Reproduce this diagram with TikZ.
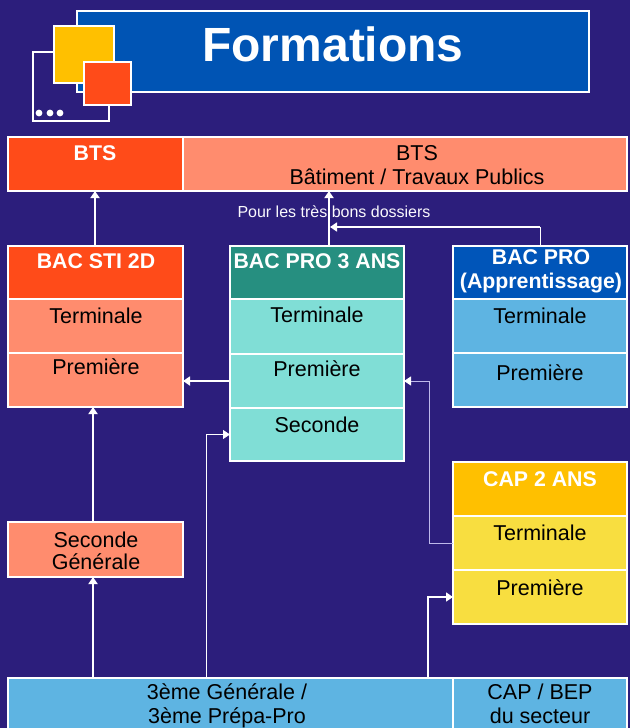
\documentclass[tikz,border=0pt]{standalone}
\usepackage{fontspec}
\setmainfont{Liberation Sans}
\usetikzlibrary{arrows.meta,calc}
\definecolor{bgnavy}{RGB}{44,30,124}
\definecolor{titleblue}{RGB}{0,84,180}
\definecolor{sqyellow}{RGB}{255,192,0}
\definecolor{orred}{RGB}{255,75,25}
\definecolor{salmon}{RGB}{255,140,110}
\definecolor{tealh}{RGB}{38,143,128}
\definecolor{tealc}{RGB}{128,222,214}
\definecolor{apblue}{RGB}{0,85,185}
\definecolor{skyc}{RGB}{94,180,226}
\definecolor{capy}{RGB}{255,192,0}
\definecolor{capc}{RGB}{248,222,64}
\definecolor{lav}{RGB}{190,185,235}
\newcommand\xbox[6]{\node[cellbase, fill=#6, anchor=north west, minimum width={#4-#2}, minimum height={#5-#3}] (#1) at (#2,#3) {};}
\begin{document}
\begin{tikzpicture}[x=1pt,y=-1pt,
  cellbase/.style={draw=white, line width=1.2pt, inner sep=0pt, outer sep=0pt},
  txt/.style={anchor=base, inner sep=0pt, font=\fontsize{21.5}{24}\selectfont, text=black},
  htxt/.style={anchor=base, inner sep=0pt, font=\fontsize{21.3}{24}\selectfont\bfseries, text=white},
  thickarr/.style={draw=white, line width=2pt, -{Triangle[length=7pt,width=9pt]}},
  thinarr/.style={draw=white, line width=1pt, -{Triangle[length=7pt,width=9pt]}},
  lavarr/.style={draw=lav, line width=1pt, -{Triangle[length=7pt,width=9pt,color=white]}}]
\useasboundingbox (0,0) rectangle (630,728);
\fill[bgnavy] (0,0) rectangle (630,728);
% logo and title
\node[draw=white, line width=1.5pt, fill=titleblue, anchor=north west, minimum width=512, minimum height=81, inner sep=0pt] (titlebox) at (76,10) {};
\node[draw=white, line width=1.5pt, anchor=north west, minimum width=76, minimum height=69, inner sep=0pt] (frame) at (32,51) {};
\node[draw=white, line width=1.5pt, fill=sqyellow, anchor=north west, minimum width=60, minimum height=57, inner sep=0pt] (sqy) at (53,25) {};
\node[draw=white, line width=1.5pt, fill=orred, anchor=north west, minimum width=47, minimum height=43, inner sep=0pt] (sqr) at (83,61) {};
\fill[white] (39,113) circle (3.4) (50,113) circle (3.4) (60,113) circle (3.4);
\node[anchor=center, inner sep=0pt, font=\fontsize{48}{50}\selectfont\bfseries, text=white] (title) at (333,44) {Formations};
% BTS row
\xbox{btsL}{8}{137}{183}{191}{orred}
\xbox{btsR}{183}{137}{627}{191}{salmon}
\node[htxt] (btsLt) at (95,160) {BTS};
\node[txt] (btsRa) at (417,160) {BTS};
\node[txt] (btsRb) at (417,184) {Bâtiment / Travaux Publics};
\node[anchor=base, inner sep=0pt, font=\fontsize{16}{18}\selectfont, text=white!92!lav] (pour) at (334,217) {Pour les très bons dossiers};
% BAC STI 2D
\xbox{stiH}{8}{246}{183}{299}{orred}
\xbox{stiT}{8}{299}{183}{353}{salmon}
\xbox{stiP}{8}{353}{183}{407}{salmon}
\node[htxt] (stiHt) at (96,268) {BAC STI 2D};
\node[txt] (stiTt) at (96,323) {Terminale};
\node[txt] (stiPt) at (96,374) {Première};
% BAC PRO 3 ANS
\xbox{bpH}{230}{246}{404}{299}{tealh}
\xbox{bpT}{230}{299}{404}{354}{tealc}
\xbox{bpP}{230}{354}{404}{408}{tealc}
\xbox{bpS}{230}{408}{404}{461}{tealc}
\node[htxt] (bpHt) at (317,268) {BAC PRO 3 ANS};
\node[txt] (bpTt) at (317,322) {Terminale};
\node[txt] (bpPt) at (317,376) {Première};
\node[txt] (bpSt) at (317,432) {Seconde};
% BAC PRO apprentissage
\xbox{apH}{453}{246}{627}{299}{apblue}
\xbox{apT}{453}{299}{627}{353}{skyc}
\xbox{apP}{453}{353}{627}{407}{skyc}
\node[htxt] (apHa) at (541,264) {BAC PRO};
\node[htxt] (apHb) at (541,288) {(Apprentissage)};
\node[txt] (apTt) at (540,323) {Terminale};
\node[txt] (apPt) at (540,380) {Première};
% CAP 2 ANS
\xbox{capH}{453}{462}{627}{516}{capy}
\xbox{capT}{453}{516}{627}{570}{capc}
\xbox{capP}{453}{570}{627}{624}{capc}
\node[htxt] (capHt) at (540,486) {CAP 2 ANS};
\node[txt] (capTt) at (540,540) {Terminale};
\node[txt] (capPt) at (540,595) {Première};
% Seconde Generale
\xbox{secG}{8}{522}{183}{577}{salmon}
\node[txt] (secGa) at (96,547) {Seconde};
\node[txt] (secGb) at (96,569) {Générale};
% bottom row
\xbox{e3}{8}{678}{453}{740}{skyc}
\xbox{cap}{453}{678}{627}{740}{skyc}
\node[txt] (e3a) at (227,699) {3ème Générale /};
\node[txt] (e3b) at (227,723) {3ème Prépa-Pro};
\node[txt] (capa) at (540,699) {CAP / BEP};
\node[txt] (capb) at (540,723) {du secteur};
% connectors
\draw[thickarr] (stiH.north -| btsLt) -- (btsL.south -| btsLt);
\coordinate (bpx) at (329,246);
\draw[thickarr] (bpx) -- (bpx |- btsR.south);
\coordinate (j1) at (540,227);
\coordinate (j2) at (330,227);
\draw[line width=1pt, white] (apH.north) -- (j1);
\draw[thickarr, line width=1.6pt] (j1) -- (j2);
\coordinate (sx) at (93,522);
\draw[thickarr] (sx) -- (sx |- stiP.south);
\coordinate (ex) at (93,678);
\draw[thickarr] (ex) -- (ex |- secG.south);
\draw[thickarr, line width=2.4pt] (bpP.west) -- (bpP.west -| stiP.east);
\coordinate (c1) at (206,678);
\draw[thinarr] (c1) |- (bpS.west);
\coordinate (c2) at (429,381);
\draw[lavarr] (capT.west) -| (c2) -- (bpP.east);
\coordinate (c3) at (428,678);
\draw[thinarr, line width=1.5pt] (c3) |- (capP.west);
\end{tikzpicture}
\end{document}
